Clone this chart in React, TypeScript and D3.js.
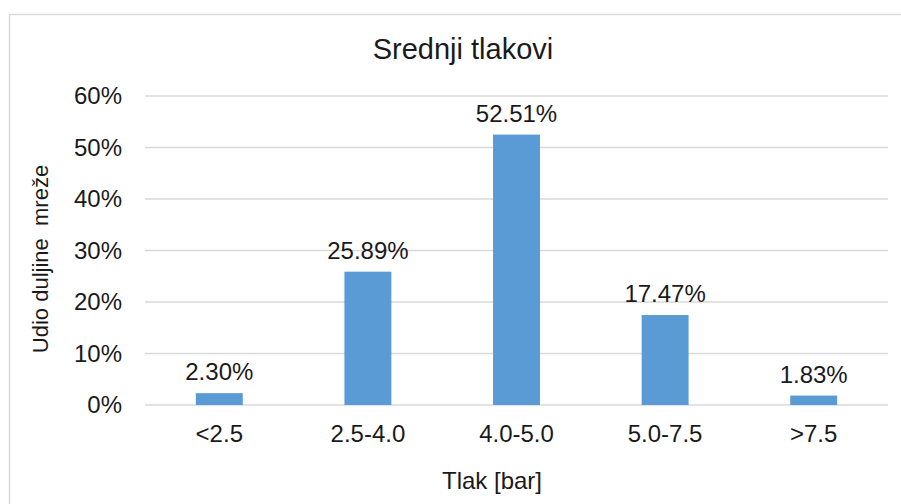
import React from "react";
import * as d3 from "d3";

const categories = ["<2.5", "2.5-4.0", "4.0-5.0", "5.0-7.5", ">7.5"];
const shares = [2.3, 25.89, 52.51, 17.47, 1.83];
const yTicks = [0, 10, 20, 30, 40, 50, 60];

const width = 901;
const height = 504;
const margin = { top: 96, right: 13, bottom: 99, left: 145 };
const font = "'Liberation Sans', Arial, sans-serif";
const barColor = "#5b9bd5";
const gridColor = "#d9d9d9";
const textColor = "#1a1a1a";

export default function App() {
  const xScale = d3
    .scaleBand<string>()
    .domain(categories)
    .range([margin.left, width - margin.right])
    .paddingInner(0.684)
    .paddingOuter(0.342);

  const yScale = d3
    .scaleLinear()
    .domain([0, 60])
    .range([height - margin.bottom, margin.top]);

  const rows = categories.map((c, i) => ({ category: c, value: shares[i] }));

  return (
    <svg
      width={width}
      height={height}
      viewBox={`0 0 ${width} ${height}`}
      style={{ position: "absolute", left: 0, top: 0, background: "#fff" }}
      fontFamily={font}
    >
      <rect
        x={9.5}
        y={14.5}
        width={width}
        height={height}
        fill="#fff"
        stroke={gridColor}
        strokeWidth={1.5}
      />

      <text
        x={463}
        y={59}
        textAnchor="middle"
        fontSize={29}
        fill={textColor}
      >
        Srednji tlakovi
      </text>

      {yTicks.map((t) => (
        <g key={t}>
          <line
            x1={margin.left}
            x2={width - margin.right}
            y1={yScale(t)}
            y2={yScale(t)}
            stroke={gridColor}
            strokeWidth={1.5}
          />
          <text
            x={122}
            y={yScale(t)}
            dy="0.35em"
            textAnchor="end"
            fontSize={24}
            fill={textColor}
          >
            {`${t}%`}
          </text>
        </g>
      ))}

      {rows.map((d) => (
        <g key={d.category}>
          <rect
            x={xScale(d.category)}
            y={yScale(d.value)}
            width={xScale.bandwidth()}
            height={yScale(0) - yScale(d.value)}
            fill={barColor}
          />
          <text
            x={(xScale(d.category) ?? 0) + xScale.bandwidth() / 2}
            y={yScale(d.value) - 13}
            textAnchor="middle"
            fontSize={24}
            fill={textColor}
          >
            {`${d.value.toFixed(2)}%`}
          </text>
          <text
            x={(xScale(d.category) ?? 0) + xScale.bandwidth() / 2}
            y={442}
            textAnchor="middle"
            fontSize={24}
            fill={textColor}
          >
            {d.category}
          </text>
        </g>
      ))}

      <text
        x={492}
        y={489}
        textAnchor="middle"
        fontSize={24}
        fill={textColor}
      >
        Tlak [bar]
      </text>

      <text
        transform={`translate(48, 259) rotate(-90)`}
        textAnchor="middle"
        fontSize={22}
        fill={textColor}
        style={{ whiteSpace: "pre" }}
      >
        {"Udio duljine  mreže"}
      </text>
    </svg>
  );
}
